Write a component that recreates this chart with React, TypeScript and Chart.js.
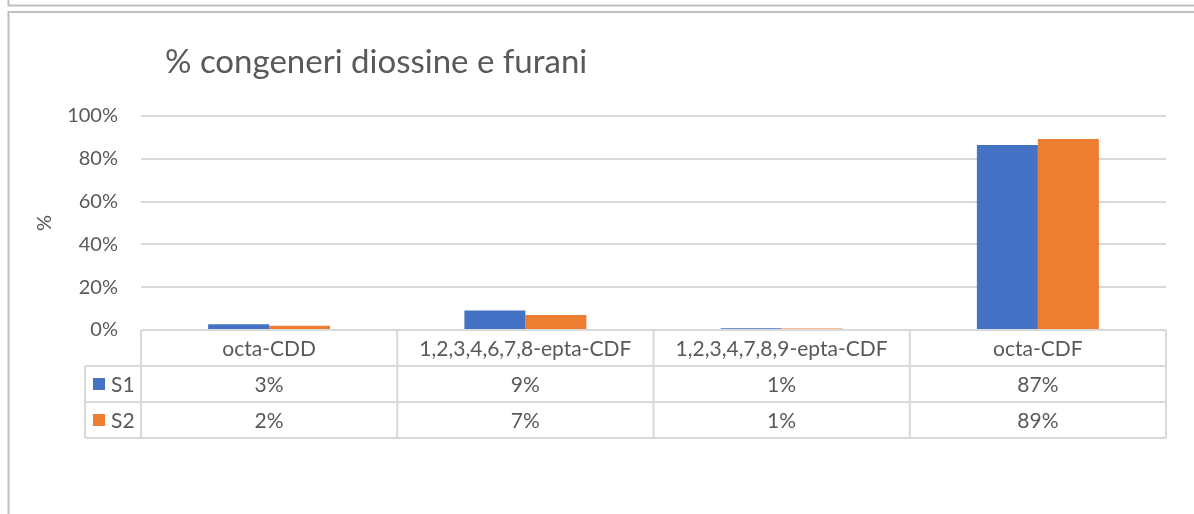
import React, { useEffect, useRef } from "react";
import { Chart, registerables } from "chart.js";

Chart.register(...registerables);

const title = "% congeneri diossine e furani";
const yAxisTitle = "%";
const categories = [
  "octa-CDD",
  "1,2,3,4,6,7,8-epta-CDF",
  "1,2,3,4,7,8,9-epta-CDF",
  "octa-CDF",
];
const seriesNames = ["S1", "S2"];
const s1Values = [2.7, 9.1, 0.8, 86.5];
const s2Values = [2.0, 7.0, 0.7, 89.3];
const s1Labels = ["3%", "9%", "1%", "87%"];
const s2Labels = ["2%", "7%", "1%", "89%"];
const seriesColors = ["#4472C4", "#ED7D31"];
const yTicks = [0, 20, 40, 60, 80, 100];

const FONT = "Lato, 'Open Sans', sans-serif";
const TEXT = "#595959";
const LINE = "#d9d9d9";

const decorPlugin = {
  id: "decor",
  afterDraw(chart: any) {
    const ctx = chart.ctx as CanvasRenderingContext2D;
    const area = chart.chartArea;
    const xs = chart.scales.x;
    ctx.save();
    // outer frames
    ctx.strokeStyle = "#c0c0c0";
    ctx.lineWidth = 2;
    ctx.beginPath();
    ctx.moveTo(8.5, 0);
    ctx.lineTo(8.5, 5.5);
    ctx.lineTo(1194, 5.5);
    ctx.moveTo(1194, 12);
    ctx.lineTo(8.5, 12);
    ctx.lineTo(8.5, 514);
    ctx.stroke();

    // title
    ctx.fillStyle = TEXT;
    ctx.font = `33px ${FONT}`;
    ctx.textAlign = "left";
    ctx.textBaseline = "alphabetic";
    ctx.fillText(title, 165, 73);

    // y axis title
    ctx.save();
    ctx.translate(45, 223);
    ctx.rotate(-Math.PI / 2);
    ctx.font = `20px ${FONT}`;
    ctx.textAlign = "center";
    ctx.textBaseline = "middle";
    ctx.fillText(yAxisTitle, 0, 0);
    ctx.restore();

    // data table
    const n = categories.length;
    const left = area.left;
    const right = area.right;
    const colW = (right - left) / n;
    const top = area.bottom;
    const rowH = 36;
    const legLeft = 85;
    ctx.strokeStyle = LINE;
    ctx.lineWidth = 2;
    ctx.beginPath();
    ctx.moveTo(left, top);
    ctx.lineTo(right, top);
    for (let r = 1; r <= 3; r++) {
      ctx.moveTo(legLeft, top + r * rowH);
      ctx.lineTo(right, top + r * rowH);
    }
    for (let c = 0; c <= n; c++) {
      const x = left + c * colW;
      ctx.moveTo(x, top);
      ctx.lineTo(x, top + 3 * rowH);
    }
    ctx.moveTo(legLeft, top + rowH);
    ctx.lineTo(legLeft, top + 3 * rowH);
    ctx.stroke();

    ctx.fillStyle = TEXT;
    ctx.font = `21px ${FONT}`;
    ctx.textAlign = "center";
    ctx.textBaseline = "middle";
    for (let c = 0; c < n; c++) {
      const cx = xs.getPixelForValue(c);
      ctx.fillText(categories[c], cx, top + rowH / 2 + 1);
      ctx.fillText(s1Labels[c], cx, top + rowH * 1.5 + 1);
      ctx.fillText(s2Labels[c], cx, top + rowH * 2.5 + 1);
    }
    for (let s = 0; s < seriesNames.length; s++) {
      const cy = top + rowH * (1.5 + s);
      ctx.fillStyle = seriesColors[s];
      ctx.fillRect(93, cy - 6, 12, 12);
      ctx.fillStyle = TEXT;
      ctx.textAlign = "left";
      ctx.fillText(seriesNames[s], 111, cy + 1);
    }
    ctx.restore();
  },
};

export default function App() {
  const ref = useRef<HTMLCanvasElement | null>(null);
  useEffect(() => {
    if (!ref.current) return;
    const chart = new Chart(ref.current, {
      type: "bar",
      data: {
        labels: categories,
        datasets: [
          {
            label: seriesNames[0],
            data: s1Values,
            backgroundColor: seriesColors[0],
            categoryPercentage: 0.476,
            barPercentage: 1,
          },
          {
            label: seriesNames[1],
            data: s2Values,
            backgroundColor: seriesColors[1],
            categoryPercentage: 0.476,
            barPercentage: 1,
          },
        ],
      },
      options: {
        responsive: false,
        animation: false,
        layout: { padding: { top: 116, bottom: 184, left: 0, right: 28 } },
        plugins: {
          legend: { display: false },
          title: { display: false },
          tooltip: { enabled: false },
        },
        scales: {
          x: { display: false },
          y: {
            min: 0,
            max: 100,
            afterFit: (scale: any) => {
              scale.width = 141;
            },
            afterBuildTicks: (scale: any) => {
              scale.ticks = yTicks.map((v) => ({ value: v }));
            },
            ticks: {
              color: TEXT,
              font: { family: FONT, size: 20 },
              padding: 23,
              callback: (v: any) => `${v}%`,
            },
            grid: { color: LINE, lineWidth: 2, drawTicks: false },
            border: { display: false },
          },
        },
      },
      plugins: [decorPlugin],
    });
    return () => chart.destroy();
  }, []);
  return (
    <div style={{ position: "absolute", left: 0, top: 0, width: 1194, height: 514, background: "#fff" }}>
      <canvas ref={ref} width={1194} height={514} />
    </div>
  );
}
